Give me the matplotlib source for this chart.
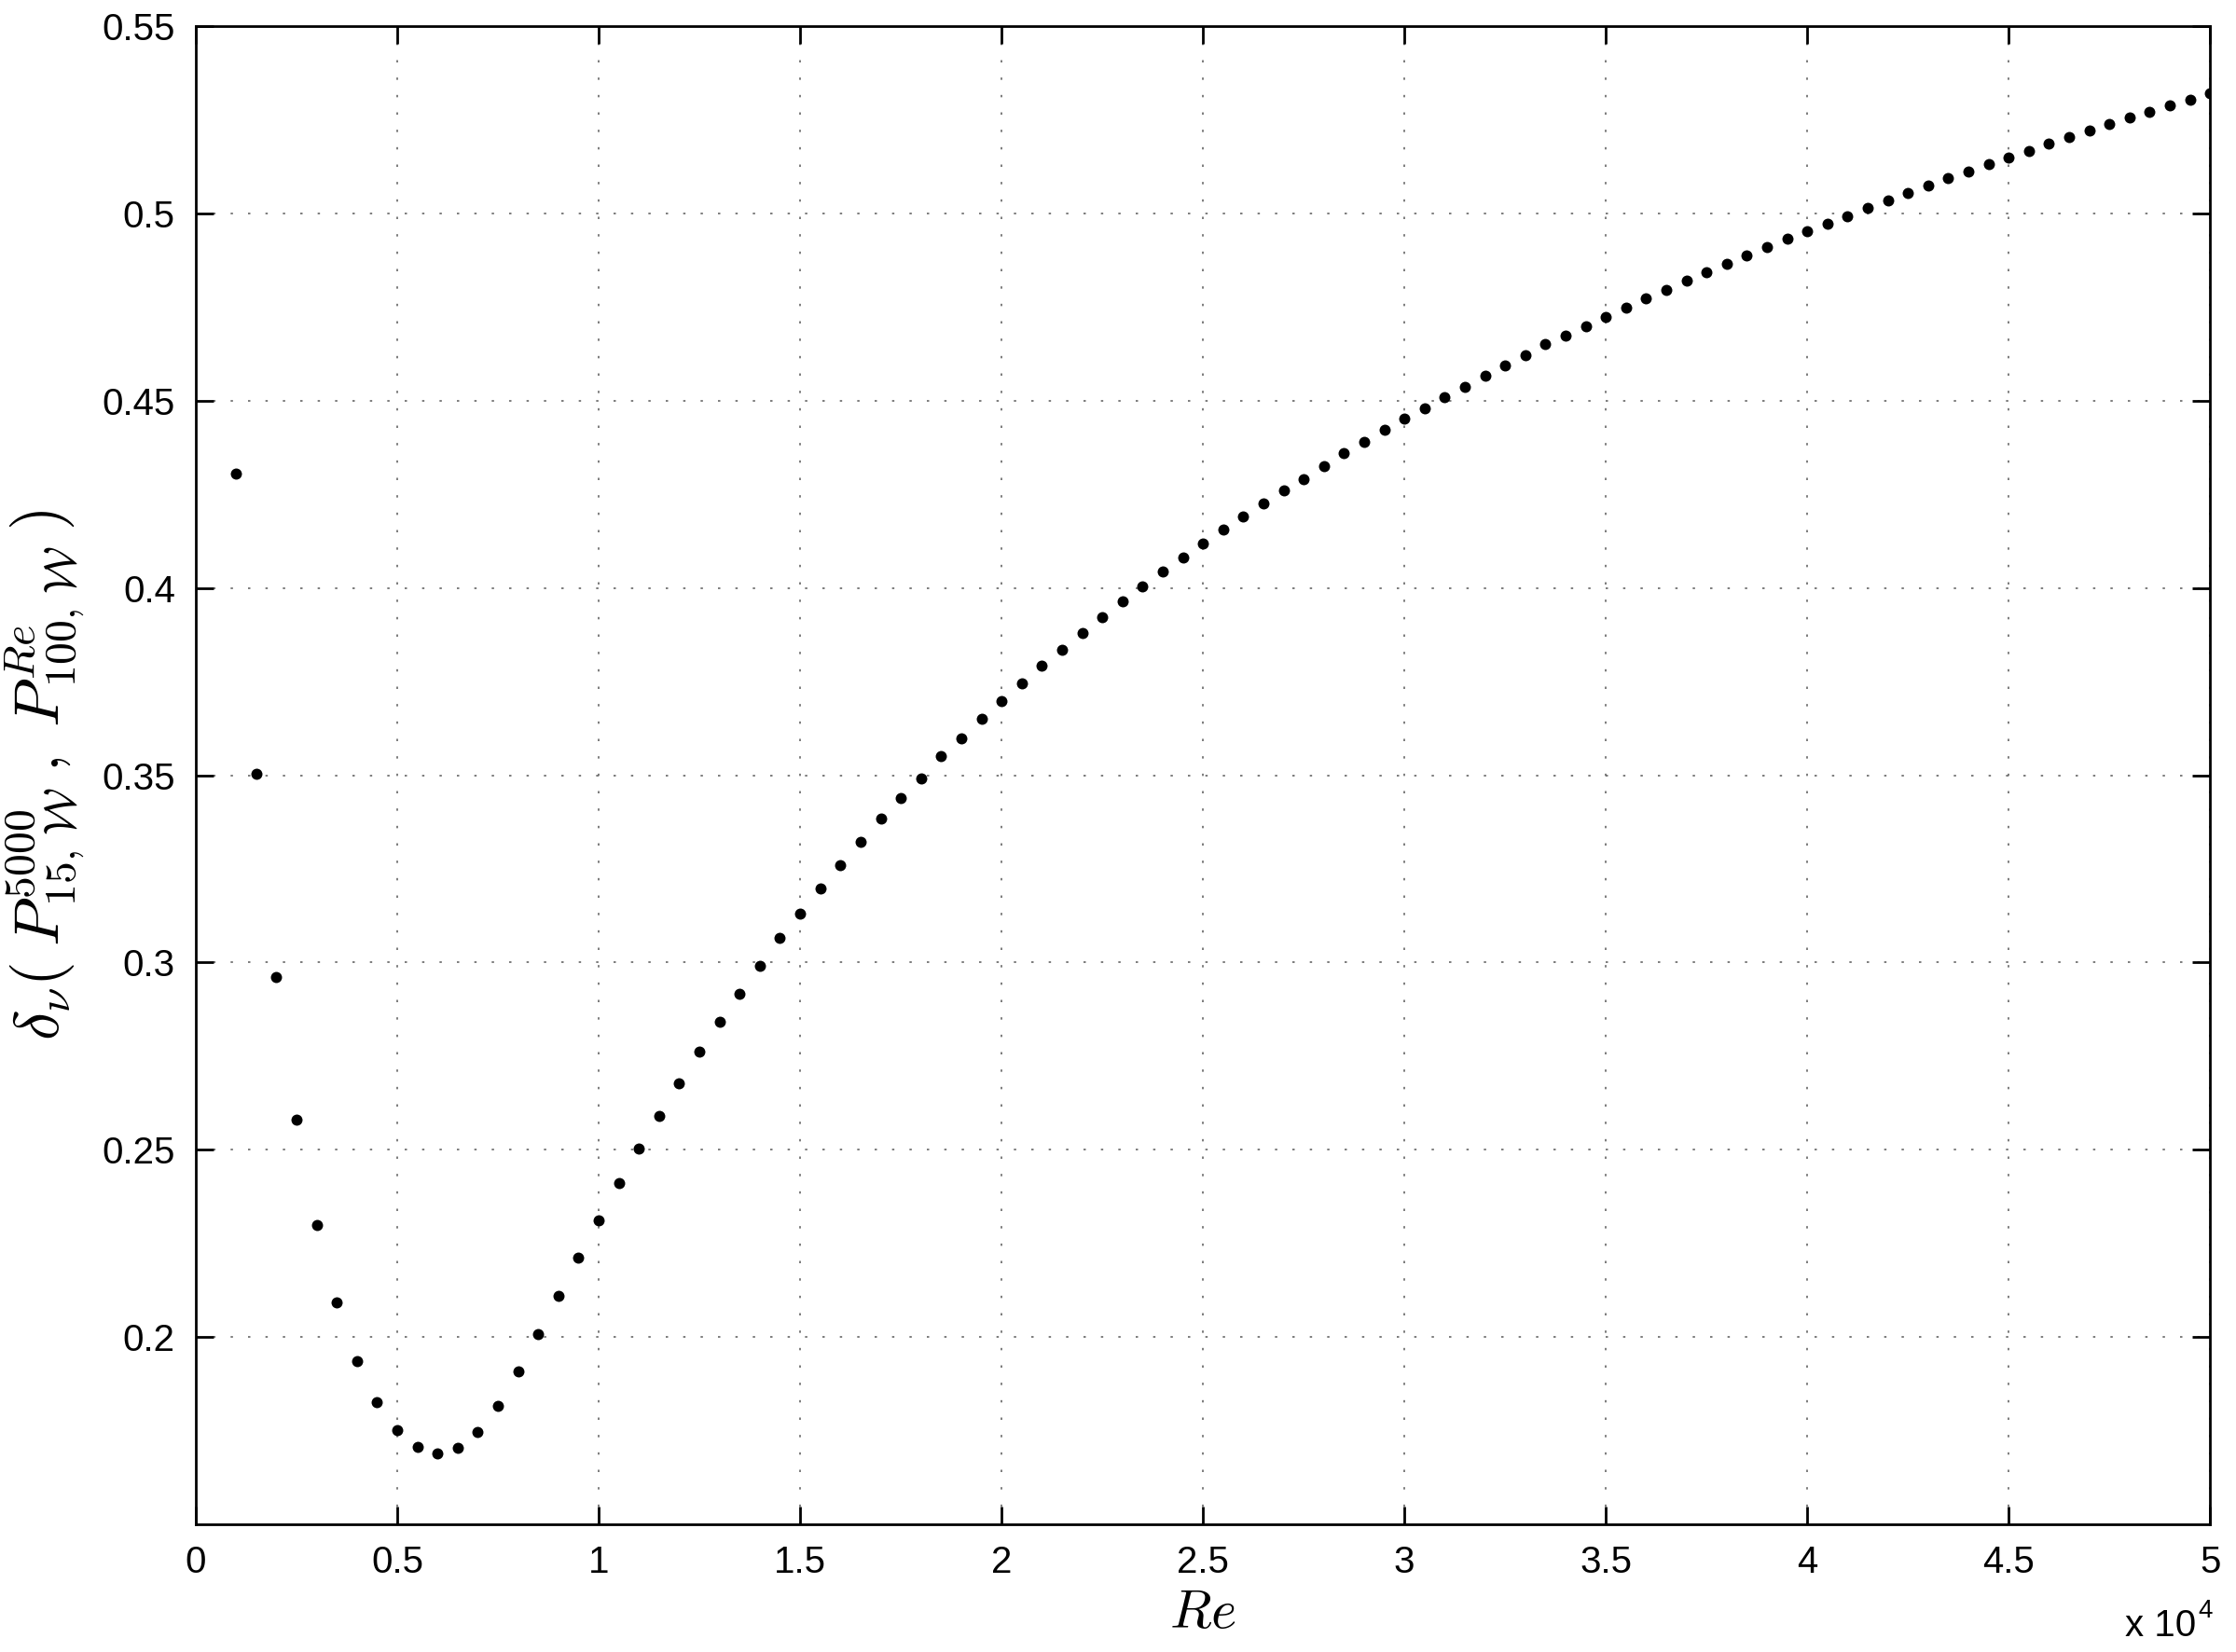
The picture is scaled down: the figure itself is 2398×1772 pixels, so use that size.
import matplotlib
matplotlib.use("Agg")
import matplotlib.pyplot as plt
from matplotlib.ticker import FuncFormatter

# Reynolds numbers (1000 to 50000 in steps of 500)
re_values = list(range(1000, 50001, 500))

# delta_nu
delta_nu = [
    0.4304, 0.3504, 0.2962, 0.2580, 0.2298, 0.2093, 0.1935, 0.1827, 0.1751, 0.1707,
    0.1690, 0.1705, 0.1747, 0.1816, 0.1909, 0.2008, 0.2111, 0.2213, 0.2312, 0.2410,
    0.2504, 0.2591, 0.2677, 0.2762, 0.2842, 0.2917, 0.2992, 0.3065, 0.3131, 0.3198,
    0.3260, 0.3321, 0.3384, 0.3440, 0.3492, 0.3550, 0.3599, 0.3650, 0.3697, 0.3745,
    0.3792, 0.3836, 0.3880, 0.3922, 0.3965, 0.4004, 0.4043, 0.4081, 0.4119, 0.4156,
    0.4190, 0.4226, 0.4260, 0.4290, 0.4326, 0.4360, 0.4390, 0.4422, 0.4452, 0.4479,
    0.4509, 0.4537, 0.4567, 0.4593, 0.4621, 0.4650, 0.4674, 0.4698, 0.4723, 0.4748,
    0.4772, 0.4795, 0.4820, 0.4842, 0.4865, 0.4888, 0.4910, 0.4932, 0.4953, 0.4972,
    0.4993, 0.5015, 0.5035, 0.5055, 0.5075, 0.5095, 0.5112, 0.5131, 0.5150, 0.5166,
    0.5186, 0.5204, 0.5220, 0.5239, 0.5256, 0.5272, 0.5288, 0.5304, 0.5320,
]

x_ticks = [0, 5000, 10000, 15000, 20000, 25000, 30000, 35000, 40000, 45000, 50000]
y_ticks = [0.2, 0.25, 0.3, 0.35, 0.4, 0.45, 0.5, 0.55]

plt.rcParams["font.family"] = ["Liberation Sans", "DejaVu Sans"]
plt.rcParams["mathtext.fontset"] = "cm"

fig = plt.figure(figsize=(11.99, 8.86), dpi=200)
ax = fig.add_axes([0.0876, 0.0773, 0.9008, 0.9069])

ax.plot(re_values, delta_nu, "o", color="black", markersize=4.3, markeredgewidth=0)

ax.set_xlim(0, 50000)
ax.set_ylim(0.15, 0.55)
ax.set_xticks(x_ticks)
ax.set_yticks(y_ticks)
ax.xaxis.set_major_formatter(FuncFormatter(lambda v, p: f"{v / 1e4:g}"))
ax.yaxis.set_major_formatter(FuncFormatter(lambda v, p: f"{v:g}"))

ax.tick_params(direction="in", length=7, width=1, labelsize=14.5,
               top=True, right=True, pad=8)
for s in ax.spines.values():
    s.set_linewidth(1)

ax.grid(True, color="0.4", linestyle=(0, (1.5, 9.7)), linewidth=0.6)

ax.set_xlabel("$Re$", fontsize=21, labelpad=3)
ax.set_ylabel(r"$\delta_\nu(\;P^{5000}_{15,\,\mathcal{W}}\;,\;P^{Re}_{100,\,\mathcal{W}}\;)$",
              fontsize=24.5, labelpad=6)

# MATLAB-style exponent under the right end of the x axis
ax.text(0.993, -0.056, "x 10", transform=ax.transAxes, ha="right", va="top",
        fontsize=14.5)
ax.text(0.994, -0.050, "4", transform=ax.transAxes, ha="left", va="top",
        fontsize=10)

fig.savefig("out.png", dpi=200)
